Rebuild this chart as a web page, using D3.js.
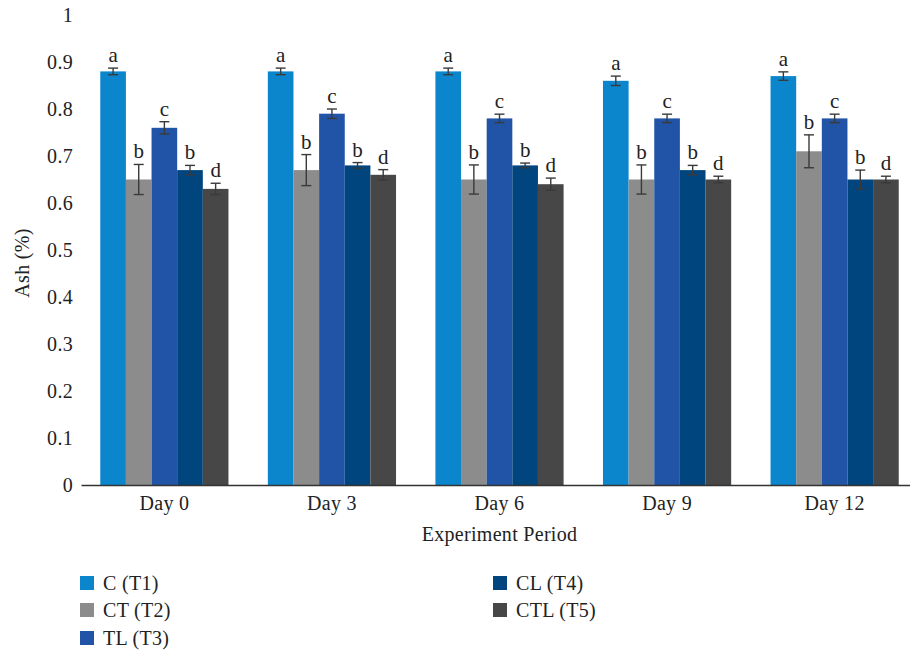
<!DOCTYPE html>
<html>
<head>
<meta charset="utf-8">
<script src="https://cdn.jsdelivr.net/npm/d3@7/dist/d3.min.js"></script>
<style>
  html, body { margin: 0; padding: 0; background: #fff; }
  svg { display: block; }
  text { font-family: "Liberation Serif", "DejaVu Serif", serif; fill: #222; }
</style>
</head>
<body>
<svg id="chart" width="910" height="650"></svg>
<script>
// Ash content by treatment over the storage period
const days = ["Day 0", "Day 3", "Day 6", "Day 9", "Day 12"];
const treatments = ["C (T1)", "CT (T2)", "TL (T3)", "CL (T4)", "CTL (T5)"];
const colors = ["#0b86cc", "#8c8c8c", "#2154a6", "#00457d", "#474747"];

// mean values per treatment, one entry per day
const valC   = [0.88, 0.88, 0.88, 0.86, 0.87];
const valCT  = [0.65, 0.67, 0.65, 0.65, 0.71];
const valTL  = [0.76, 0.79, 0.78, 0.78, 0.78];
const valCL  = [0.67, 0.68, 0.68, 0.67, 0.65];
const valCTL = [0.63, 0.66, 0.64, 0.65, 0.65];

// error bar half-widths
const errC   = [0.007, 0.007, 0.007, 0.010, 0.009];
const errCT  = [0.032, 0.033, 0.031, 0.031, 0.035];
const errTL  = [0.013, 0.010, 0.009, 0.009, 0.009];
const errCL  = [0.010, 0.006, 0.005, 0.010, 0.020];
const errCTL = [0.012, 0.011, 0.013, 0.007, 0.007];

// significance letters
const sigC   = ["a", "a", "a", "a", "a"];
const sigCT  = ["b", "b", "b", "b", "b"];
const sigTL  = ["c", "c", "c", "c", "c"];
const sigCL  = ["b", "b", "b", "b", "b"];
const sigCTL = ["d", "d", "d", "d", "d"];

const yTicks = [0, 0.1, 0.2, 0.3, 0.4, 0.5, 0.6, 0.7, 0.8, 0.9, 1];

const values = [valC, valCT, valTL, valCL, valCTL];
const errors = [errC, errCT, errTL, errCL, errCTL];
const sigs = [sigC, sigCT, sigTL, sigCL, sigCTL];

const rows = [];
days.forEach((d, i) => {
  treatments.forEach((t, j) => {
    rows.push({ day: d, t: t, idx: j, v: values[j][i], e: errors[j][i], s: sigs[j][i] });
  });
});

const FONT = '"Liberation Serif", "DejaVu Serif", serif';
const FS = "20px";
const LS = "0.3px";

const svg = d3.select("#chart");
const plotLeft = 81, plotRight = 918, plotTop = 15, plotBottom = 485;

const x0 = d3.scaleBand().domain(days).range([plotLeft, plotRight]).paddingInner(0.235).paddingOuter(0.115);
const x1 = d3.scaleBand().domain(treatments).range([0, x0.bandwidth()]).padding(0);
const y = d3.scaleLinear().domain([0, 1]).range([plotBottom, plotTop]);

// y tick labels (no axis line)
const yAxis = d3.axisLeft(y).tickValues(yTicks).tickSize(0).tickPadding(0)
  .tickFormat(d => d === 0 ? "0" : d === 1 ? "1" : d3.format(".1f")(d));
const gy = svg.append("g").attr("transform", `translate(${plotLeft - 8},0)`).call(yAxis);
gy.select(".domain").remove();
gy.selectAll("text").style("font-size", FS).style("font-family", FONT)
  .style("letter-spacing", LS).attr("fill", "#222");

// bars
const g = svg.append("g");
g.selectAll("rect.bar").data(rows).enter().append("rect")
  .attr("class", "bar")
  .attr("x", d => x0(d.day) + x1(d.t))
  .attr("width", x1.bandwidth())
  .attr("y", d => y(d.v))
  .attr("height", d => y(0) - y(d.v))
  .attr("fill", d => colors[d.idx]);

// error bars
const cap = 5;
const cx = d => x0(d.day) + x1(d.t) + x1.bandwidth() / 2;
const eb = g.selectAll("g.err").data(rows).enter().append("g").attr("class", "err")
  .attr("stroke", "#3a3a3a").attr("stroke-width", 1.4);
eb.append("line")
  .attr("x1", cx).attr("x2", cx)
  .attr("y1", d => y(d.v - d.e)).attr("y2", d => y(d.v + d.e));
eb.append("line")
  .attr("x1", d => cx(d) - cap).attr("x2", d => cx(d) + cap)
  .attr("y1", d => y(d.v + d.e)).attr("y2", d => y(d.v + d.e));
eb.append("line")
  .attr("x1", d => cx(d) - cap).attr("x2", d => cx(d) + cap)
  .attr("y1", d => y(d.v - d.e)).attr("y2", d => y(d.v - d.e));

// significance letters
g.selectAll("text.sig").data(rows).enter().append("text")
  .attr("class", "sig")
  .attr("x", cx)
  .attr("y", d => y(d.v + d.e) - 6)
  .attr("text-anchor", "middle")
  .style("font-size", "21px")
  .text(d => d.s);

// x axis
const xAxis = d3.axisBottom(x0).tickSize(0).tickPadding(11);
const gx = svg.append("g").attr("transform", `translate(0,${plotBottom})`).call(xAxis);
gx.select(".domain").attr("stroke", "#333").attr("stroke-width", 1.5);
gx.selectAll("text").style("font-size", FS).style("font-family", FONT)
  .style("letter-spacing", LS).attr("fill", "#222");

// axis titles
svg.append("text").attr("x", (plotLeft + plotRight) / 2).attr("y", 541)
  .attr("text-anchor", "middle").style("font-size", FS).style("letter-spacing", LS)
  .text("Experiment Period");
svg.append("text").attr("transform", "translate(29,263) rotate(-90)")
  .attr("text-anchor", "middle").style("font-size", FS).style("letter-spacing", LS)
  .text("Ash (%)");

// legend
const legendPos = [
  { x: 80, y: 583 }, { x: 80, y: 610 }, { x: 80, y: 638 },
  { x: 493, y: 583 }, { x: 493, y: 610 }
];
const lg = svg.append("g").selectAll("g").data(treatments).enter().append("g")
  .attr("transform", (d, i) => `translate(${legendPos[i].x},${legendPos[i].y})`);
lg.append("rect").attr("x", 0).attr("y", -7).attr("width", 14).attr("height", 14)
  .attr("fill", (d, i) => colors[i]);
lg.append("text").attr("x", 23).attr("y", 7).style("font-size", FS).style("letter-spacing", LS)
  .text(d => d);
</script>
</body>
</html>
